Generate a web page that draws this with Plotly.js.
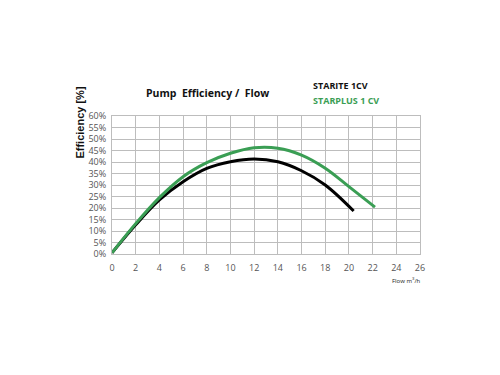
<!DOCTYPE html>
<html><head><meta charset="utf-8">
<script src="https://cdn.plot.ly/plotly-3.0.1.min.js"></script>
<style>html,body{margin:0;padding:0;background:#fff}#chart{width:500px;height:375px}</style>
</head><body><div id="chart"></div>
<script>
const flowStarite = [0, 2, 4, 6, 8, 10, 12, 14, 16, 18, 20.4];
const effStarite  = [0.005, 0.127, 0.235, 0.314, 0.372, 0.401, 0.413, 0.401, 0.362, 0.300, 0.187];
const flowStarplus = [0, 2, 4, 6, 8, 10, 12, 14, 16, 18, 20, 22.2];
const effStarplus  = [0.005, 0.132, 0.245, 0.336, 0.397, 0.438, 0.462, 0.460, 0.430, 0.373, 0.293, 0.204];
const xTicks = [0,2,4,6,8,10,12,14,16,18,20,22,24,26];
const yTicks = [0,0.05,0.1,0.15,0.2,0.25,0.3,0.35,0.4,0.45,0.5,0.55,0.6];
const yTickText = yTicks.map(v => Math.round(v*100) + '%');

const traces = [
  {x: flowStarite, y: effStarite, mode: 'lines', name: 'STARITE 1CV',
   line: {color: '#000000', width: 3, shape: 'spline', smoothing: 1}},
  {x: flowStarplus, y: effStarplus, mode: 'lines', name: 'STARPLUS 1 CV',
   line: {color: '#3a9e54', width: 3, shape: 'spline', smoothing: 1}}
];
const gridc = '#bdbdbd';
const layout = {
  width: 500, height: 375,
  margin: {l: 112, r: 80, t: 116, b: 121},
  paper_bgcolor: '#fff', plot_bgcolor: '#fff',
  showlegend: false,
  font: {family: 'Open Sans, Liberation Sans, sans-serif', color: '#555'},
  xaxis: {range: [0, 26], tickvals: xTicks, ticktext: xTicks.map(String),
    showgrid: true, gridcolor: gridc, gridwidth: 1, zeroline: false,
    showline: true, linecolor: gridc, mirror: true, ticks: '',
    tickfont: {size: 9, color: '#555', family: 'Open Sans, sans-serif'}, ticklabelstandoff: 5},
  yaxis: {range: [0, 0.6], tickvals: yTicks, ticktext: yTickText,
    showgrid: true, gridcolor: gridc, gridwidth: 1, zeroline: false,
    showline: true, linecolor: gridc, mirror: true, ticks: '',
    tickfont: {size: 9, color: '#555', family: 'Open Sans, sans-serif'}, ticklabelstandoff: 3},
  annotations: [
    {text: 'Pump  Efficiency /  Flow', xref: 'paper', yref: 'paper', x: 0.31, y: 1.17,
     xanchor: 'center', yanchor: 'middle', showarrow: false,
     font: {size: 10.5, color: '#111', family: 'Open Sans, sans-serif', weight: 'bold'}},
    {text: 'STARITE 1CV', xref: 'paper', yref: 'paper', x: 0.645, y: 1.22,
     xanchor: 'left', yanchor: 'middle', showarrow: false,
     font: {size: 9, color: '#111', family: 'Open Sans, sans-serif', weight: 'bold'}},
    {text: 'STARPLUS 1 CV', xref: 'paper', yref: 'paper', x: 0.645, y: 1.115,
     xanchor: 'left', yanchor: 'middle', showarrow: false,
     font: {size: 9, color: '#3a9e54', family: 'Open Sans, sans-serif', weight: 'bold'}},
    {text: 'Efficiency [%]', xref: 'paper', yref: 'paper', x: -0.105, y: 0.95,
     xanchor: 'center', yanchor: 'middle', textangle: -90, showarrow: false,
     font: {size: 11, color: '#111', family: 'Liberation Sans, Arial, sans-serif', weight: 'bold'}},
    {text: 'Flow m<sup>3</sup>/h', xref: 'paper', yref: 'paper', x: 0.955, y: -0.19,
     xanchor: 'center', yanchor: 'middle', showarrow: false,
     font: {size: 6, color: '#222', family: 'Open Sans, sans-serif'}}
  ]
};
Plotly.newPlot('chart', traces, layout, {displayModeBar: false, staticPlot: true});
</script></body></html>
